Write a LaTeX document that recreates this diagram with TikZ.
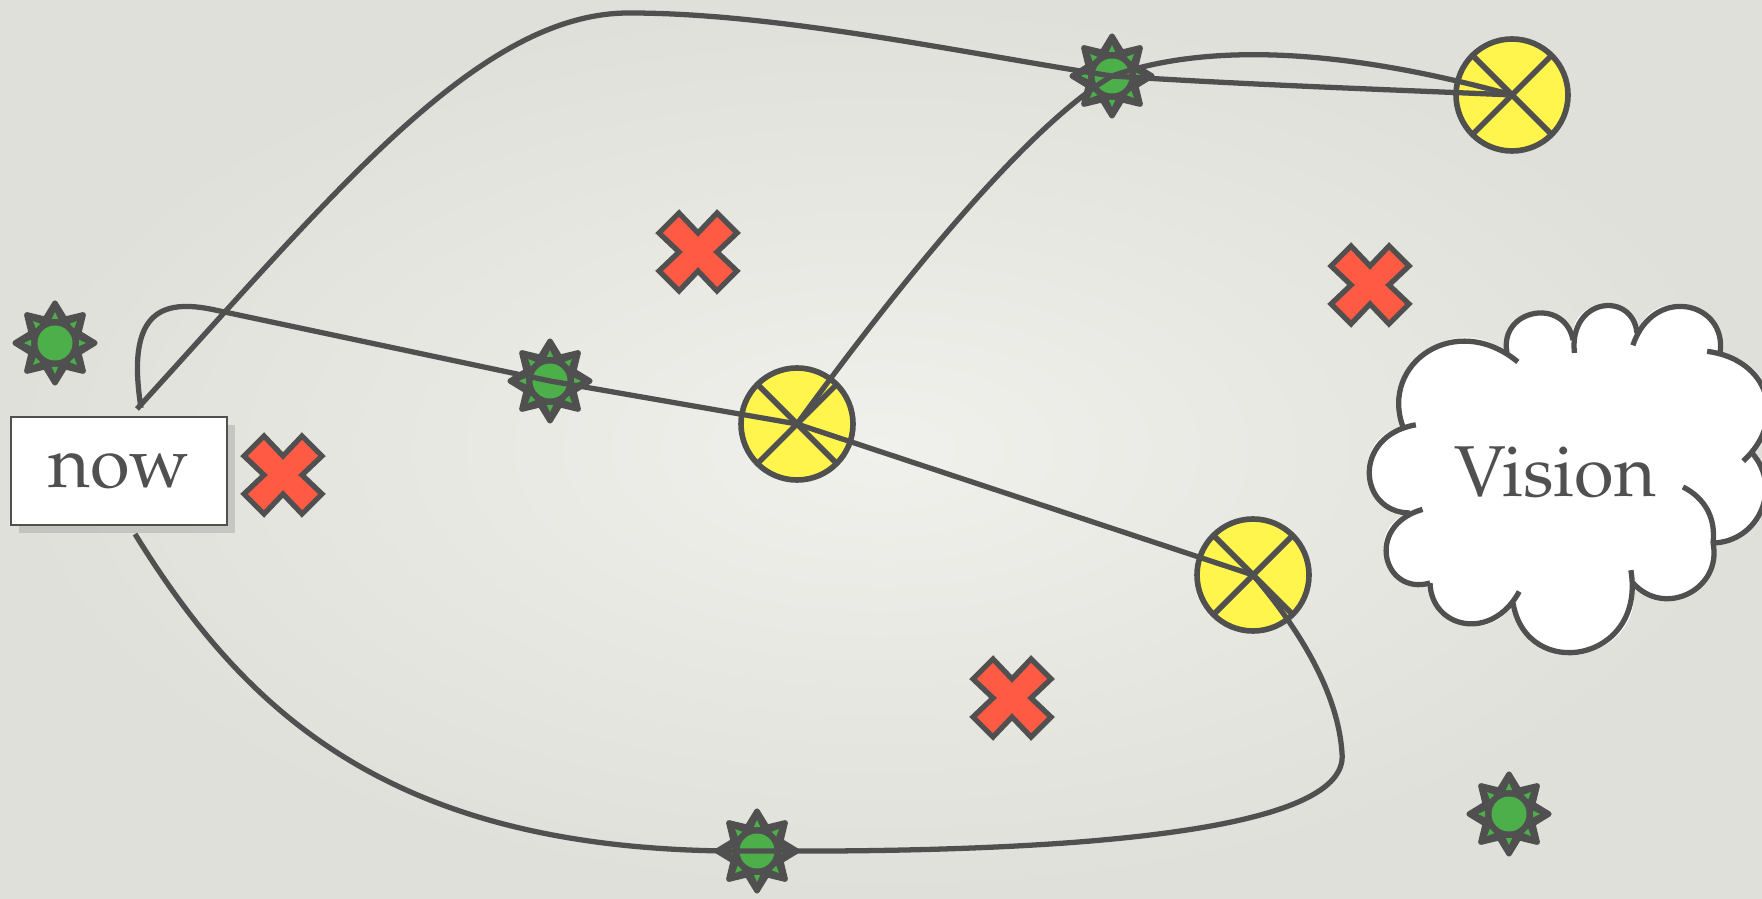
\documentclass[tikz,border=0pt]{standalone}
\usepackage[T1]{fontenc}
\renewcommand{\rmdefault}{ppl}
\usetikzlibrary{shapes.geometric,shadows,calc}

\definecolor{ink}{HTML}{505050}
\definecolor{leaf}{HTML}{4DAF4A}
\definecolor{goal}{HTML}{FFF54D}
\definecolor{tomato}{HTML}{FF5A44}
\definecolor{bgin}{HTML}{F0F0EC}
\definecolor{bgout}{HTML}{E0E0DA}

\tikzset{
  nogo/.pic={
    \filldraw[fill=tomato, draw=ink, line width=1.5pt]
      (0,0.19) -- (0.19,0.39) -- (0.39,0.19) -- (0.19,0) -- (0.39,-0.19) -- (0.19,-0.39)
      -- (0,-0.19) -- (-0.19,-0.39) -- (-0.39,-0.19) -- (-0.19,0) -- (-0.39,0.19) -- (-0.19,0.39) -- cycle;
  }
}

\begin{document}
\begin{tikzpicture}[
  font=\fontsize{20.5}{24}\selectfont,
  sun/.style={star, star points=8, star point ratio=1.55, minimum size=0.80cm, inner sep=0pt,
    draw=ink, fill=ink, line width=1.5pt, line join=round},
  hit/.style={circle, draw=ink, fill=goal, line width=1.6pt, minimum size=1.12cm, inner sep=0pt,
    path picture={
      \draw[ink, line width=1.6pt]
        (path picture bounding box.north west) -- (path picture bounding box.south east)
        (path picture bounding box.north east) -- (path picture bounding box.south west);
    }},
  start/.style={draw=ink, line width=0.6pt, fill=white, text=ink, minimum width=2.16cm, minimum height=1.08cm,
    drop shadow={shadow xshift=0.08cm, shadow yshift=-0.08cm, opacity=0.3}},
  puff/.style={draw=ink, line width=1.5pt, bend left=75, looseness=1.35},
  tall/.style={bend left=85, looseness=1.55},
  round/.style={bend left=90, looseness=1.7},
  flat/.style={bend left=65, looseness=1.2},
  route/.style={draw=ink, line width=1.5pt},
]
\clip (0,0) rectangle (17.62,8.98);
\shade[inner color=bgin, outer color=bgout] (0,0) rectangle (17.62,8.98);

% ---- milestones
\node[sun] (sunA) at (0.55,5.55) {};
\node[sun] (sunB) at (5.50,5.17) {};
\node[sun] (sunC) at (11.12,8.22) {};
\node[sun] (sunD) at (7.57,0.47) {};
\node[sun] (sunE) at (15.09,0.84) {};
\foreach \s in {sunA,sunB,sunC,sunD,sunE} {
  \fill[leaf] (\s.center) circle (0.175);
  \foreach \a in {0,45,...,315}
    \fill[leaf, shift={(\s.center)}, rotate=\a] (0.31,0) -- (0.24,0.032) -- (0.24,-0.032) -- cycle;
}

% ---- goals
\node[hit] (hitA) at (7.97,4.74) {};
\node[hit] (hitB) at (15.12,8.03) {};
\node[hit] (hitC) at (12.53,3.23) {};

% ---- dead ends
\pic (noA) at (6.98,6.46) {nogo};
\pic (noB) at (13.70,6.13) {nogo};
\pic (noC) at (2.83,4.23) {nogo};
\pic (noD) at (10.12,2.00) {nogo};

% ---- start
\node[start] (now) at (1.19,4.27) {now};

% ---- vision cloud
\coordinate (cA) at (14.03,4.71);
\coordinate (cB) at (15.07,5.45);
\coordinate (cC) at (15.73,5.58);
\coordinate (cD) at (16.37,5.65);
\coordinate (cE) at (17.20,5.45);
\coordinate (cF) at (17.52,4.45);
\coordinate (cG) at (17.13,3.55);
\coordinate (cH) at (16.33,3.15);
\coordinate (cI) at (15.13,2.95);
\coordinate (cJ) at (14.30,3.15);
\coordinate (cK) at (14.10,3.85);
\coordinate (cL) at (16.83,4.11);
\fill[white] (cA) to[puff] (cB) to[puff, round] (cC) to[puff, round] (cD) to[puff, tall] (cE)
  to[puff, flat] (cF) to[puff, flat] (cG) to[puff] (cH) to[puff, round] (cI)
  to[puff] (cJ) to[puff, round] (cK) to[puff, tall] (cA) -- cycle;
\draw[puff, shorten >=-1.4mm] (cA) to (cB);
\draw[puff, round] (cB) to (cC);
\draw[puff, round, shorten <=-1.3mm] (cC) to (cD);
\draw[puff, tall, shorten <=-1.3mm] (cD) to (cE);
\draw[puff, flat, shorten <=-1.3mm, shorten >=-1.2mm] (cE) to (cF);
\draw[puff, flat] (cF) to (cG);
\draw[puff, bend left=35, looseness=1] (cL) to (cG);
\draw[puff] (cG) to (cH);
\draw[puff, round, shorten <=-1.3mm] (cH) to (cI);
\draw[puff, shorten <=-1.3mm] (cI) to (cJ);
\draw[puff, round, shorten >=-1.3mm] (cJ) to (cK);
\draw[puff, tall, shorten >=-1.3mm] (cK) to (cA);
\node[text=ink] (vision) at (15.55,4.26) {Vision};

\coordinate (up)   at ($(now.north)+(0.18,0.07)$);
\coordinate (loop) at ($(now.north)+(0.22,0.08)$);
\coordinate (down) at ($(now.south)+(0.16,-0.08)$);

% ---- routes
\draw[route] (up) .. controls (3.35,7.06) and (4.79,8.85) .. (6.29,8.85)
  .. controls (7.79,8.85) and (9.62,8.45) .. (sunC.center)
  .. controls (12.5,8.13) and (14.0,8.08) .. (hitB.center);
\draw[route] (loop) .. controls (1.26,5.85) and (1.60,6.0) .. (2.15,5.88)
  -- (sunB.center) -- (hitA.center) -- (hitC.center);
\draw[route] (down) .. controls (2.50,1.78) and (4.00,0.43) .. (sunD.center)
  .. controls (11.0,0.45) and (13.5,0.70) .. (13.42,1.45)
  .. controls (13.38,2.05) and (13.0,2.68) .. (hitC.center);
\draw[route] (hitA.center) .. controls (8.80,5.88) and (10.20,7.68) .. (sunC.center)
  .. controls (12.0,8.53) and (13.30,8.53) .. (hitB.center);
\end{tikzpicture}
\end{document}
